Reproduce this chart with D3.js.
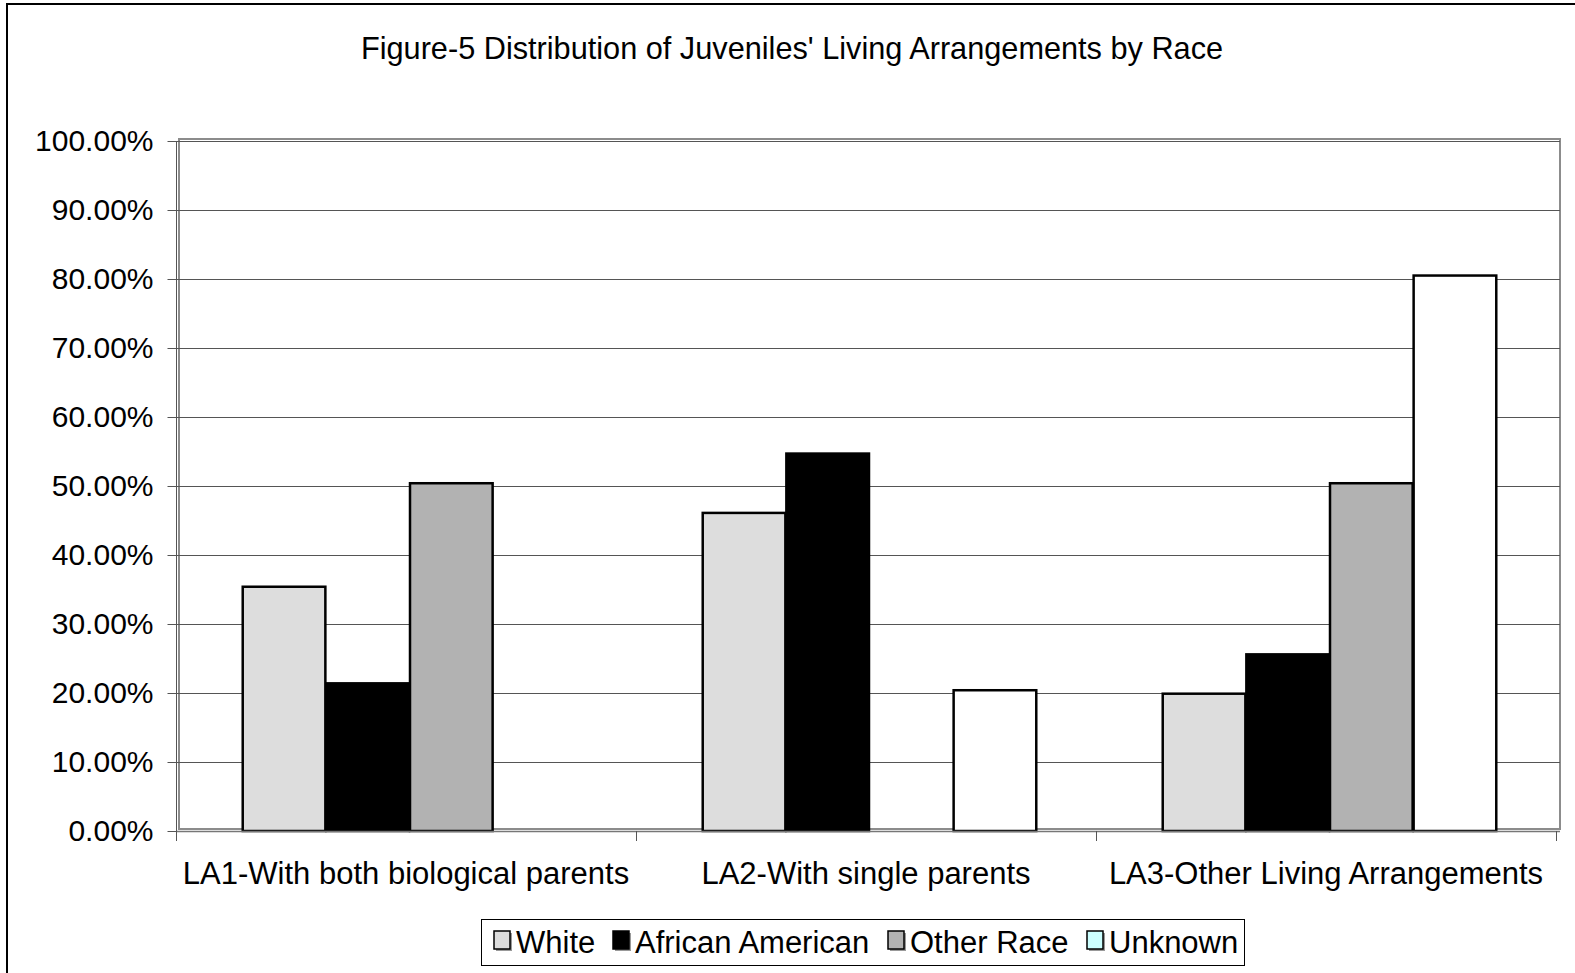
<!DOCTYPE html>
<html>
<head>
    <meta charset="utf-8">
    <style>
        body {
            margin: 0;
            background: #fff;
        }
        svg {
            display: block;
            font-family: 'Liberation Sans', Arial, sans-serif;
        }
    </style>
</head>
<body>
    <svg width="1575" height="973"></svg>

<script src="https://d3js.org/d3.v7.min.js"></script>
<script>
    // chart values
    let categories = ["LA1-With both biological parents", "LA2-With single parents", "LA3-Other Living Arrangements"];
    let series = ["White", "African American", "Other Race", "Unknown"];
    let white = [0.354, 0.461, 0.199];
    let africanAmerican = [0.214, 0.547, 0.256];
    let otherRace = [0.504, 0, 0.504];
    let unknown = [0, 0.204, 0.805];
    let yTicks = [0, 0.1, 0.2, 0.3, 0.4, 0.5, 0.6, 0.7, 0.8, 0.9, 1];

    let values = [white, africanAmerican, otherRace, unknown];
    let barFill = ["#dddddd", "#000000", "#b2b2b2", "#ffffff"];
    let swatchFill = ["#dddddd", "#000000", "#b2b2b2", "#ccffff"];

    let svg = d3.select("svg");

    // outer chart border (only left and top are inside the picture)
    svg.append("rect")
        .attr("x", 7).attr("y", 4)
        .attr("width", 1640).attr("height", 1040)
        .style("fill", "none")
        .style("stroke", "#000")
        .style("stroke-width", 2)

    let plotLeft = 177, plotRight = 1557, plotTop = 141, plotBottom = 831;

    let x0 = d3.scaleBand()
        .domain(categories)
        .range([plotLeft, plotRight])
        .padding(0)

    let x1 = d3.scaleBand()
        .domain(series)
        .range([0, x0.bandwidth()])
        .paddingInner(0)
        .paddingOuter(0.75)

    let y = d3.scaleLinear()
        .domain([0, 1])
        .range([plotBottom, plotTop])

    // plot area frame
    svg.append("rect")
        .attr("x", plotLeft + 2).attr("y", plotTop - 2)
        .attr("width", plotRight - plotLeft + 1).attr("height", plotBottom - plotTop)
        .style("fill", "#fff")
        .style("stroke", "#8c8c8c")
        .style("stroke-width", 2)

    // gridlines
    svg.append("g")
        .selectAll("line")
        .data(yTicks.slice(1))
        .join("line")
        .attr("x1", plotLeft).attr("x2", plotRight + 3)
        .attr("y1", d => Math.round(y(d)) + 0.5)
        .attr("y2", d => Math.round(y(d)) + 0.5)
        .style("stroke", "#555")
        .style("stroke-width", 1.2)

    // bars
    let groups = svg.append("g")
        .selectAll("g")
        .data(series)
        .join("g")

    groups.selectAll("rect")
        .data((s, i) => categories.map((c, j) => ({ s: s, i: i, c: c, v: values[i][j] })))
        .join("rect")
        .filter(d => d.v > 0)
        .attr("x", d => x0(d.c) + x1(d.s) + 3)
        .attr("y", d => y(d.v))
        .attr("width", x1.bandwidth() - 1)
        .attr("height", d => y(0) - y(d.v))
        .style("fill", d => barFill[d.i])
        .style("stroke", "#000")
        .style("stroke-width", 2.5)

    // y axis
    let yAxis = d3.axisLeft(y)
        .tickValues(yTicks)
        .tickSize(9)
        .tickPadding(14)
        .tickFormat(d => d3.format(".2%")(d))

    let yg = svg.append("g")
        .attr("transform", "translate(" + (plotLeft - 0.5) + ",0)")
        .call(yAxis)

    yg.select(".domain")
        .attr("d", "M0," + plotTop + "V" + (plotBottom + 9))
        .style("stroke", "#555")
    yg.selectAll(".tick line").style("stroke", "#555")
    yg.selectAll("text")
        .style("font-size", "30px")
        .style("font-family", "'Liberation Sans', Arial, sans-serif")
        .style("fill", "#000")

    // x axis with ticks on category boundaries
    let xg = svg.append("g")
    xg.append("line")
        .attr("x1", plotLeft).attr("x2", plotRight + 3)
        .attr("y1", plotBottom + 0.5).attr("y2", plotBottom + 0.5)
        .style("stroke", "#777")
        .style("stroke-width", 1.5)
    xg.selectAll(".xtick")
        .data(categories.concat(["end"]))
        .join("line")
        .attr("class", "xtick")
        .attr("x1", (d, i) => i < categories.length ? x0(d) - 0.5 : plotRight - 0.5)
        .attr("x2", (d, i) => i < categories.length ? x0(d) - 0.5 : plotRight - 0.5)
        .attr("y1", plotBottom).attr("y2", plotBottom + 10)
        .style("stroke", "#555")

    xg.selectAll(".xlabel")
        .data(categories)
        .join("text")
        .attr("class", "xlabel")
        .attr("x", d => x0(d) + x0.bandwidth() / 2 - 1)
        .attr("y", 884)
        .attr("text-anchor", "middle")
        .style("font-size", "31px")
        .text(d => d)

    // title
    svg.append("text")
        .attr("x", 792)
        .attr("y", 59)
        .attr("text-anchor", "middle")
        .style("font-size", "30.7px")
        .text("Figure-5 Distribution of Juveniles' Living Arrangements by Race")

    // legend
    let legend = svg.append("g")
    legend.append("rect")
        .attr("x", 481.5).attr("y", 919.5)
        .attr("width", 763).attr("height", 46)
        .style("fill", "#fff")
        .style("stroke", "#000")
        .style("stroke-width", 1)

    let xs = [494, 613, 888, 1087];
    let items = legend.selectAll(".item")
        .data(series)
        .join("g")
        .attr("class", "item")
        .attr("transform", (d, i) => "translate(" + xs[i] + ",0)")

    items.append("rect")
        .attr("x", 2).attr("y", 933)
        .attr("width", 16).attr("height", 18)
        .style("fill", "#999")
    items.append("rect")
        .attr("x", 0).attr("y", 931)
        .attr("width", 16).attr("height", 18)
        .style("fill", (d, i) => swatchFill[i])
        .style("stroke", "#000")
        .style("stroke-width", 1.5)
    items.append("text")
        .attr("x", 22)
        .attr("y", 953)
        .style("font-size", "31px")
        .text(d => d)
</script>
</body>
</html>
